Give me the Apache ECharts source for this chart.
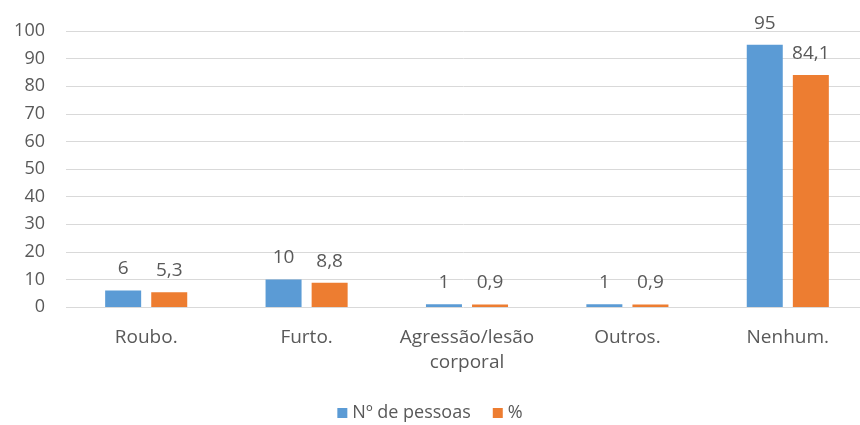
<!DOCTYPE html>
<html>
<head>
    <meta charset="utf-8" />
    <title>Ocorrências</title>
    <script src="https://cdn.jsdelivr.net/npm/echarts@6/dist/echarts.min.js"></script>
    <style>
        html, body { margin: 0; padding: 0; background: #fff; }
        #chart { width: 860px; height: 425px; }
    </style>
</head>
<body>
    <div id="chart"></div>
<script>
    // dados
    var categorias = ['Roubo.', 'Furto.', 'Agressão/lesão\ncorporal', 'Outros.', 'Nenhum.'];
    var pessoas = [6, 10, 1, 1, 95];
    var percentual = [5.3, 8.8, 0.9, 0.9, 84.1];
    var nomesSeries = ['Nº de pessoas', '%'];

    var fonte = '"Open Sans", "Noto Sans", sans-serif';
    var cinza = '#595959';

    // vírgula decimal, como no original
    function rotulo(p) {
        return String(p.value).replace('.', ',');
    }

    var myChart = echarts.init(document.getElementById('chart'));
    var option = {
        animation: false,
        textStyle: { fontFamily: fonte },
        grid: { left: 66, top: 31, width: 802, bottom: 118, outerBoundsMode: 'none', containLabel: false },
        legend: {
            bottom: -2,
            left: 'center',
            itemWidth: 10,
            itemHeight: 10,
            itemGap: 22,
            icon: 'rect',
            textStyle: { color: cinza, fontSize: 18, fontFamily: fonte },
            data: nomesSeries
        },
        xAxis: {
            type: 'category',
            data: categorias,
            axisLine: { show: false },
            axisTick: { show: false },
            axisLabel: { interval: 0, color: cinza, fontSize: 19, margin: 18, lineHeight: 25, fontFamily: fonte }
        },
        yAxis: {
            type: 'value',
            min: 0,
            max: 100,
            interval: 10,
            axisLine: { show: false },
            axisTick: { show: false },
            axisLabel: { color: cinza, fontSize: 18, margin: 21, fontFamily: fonte },
            splitLine: { lineStyle: { color: '#d9d9d9', width: 1 } }
        },
        series: [
            {
                name: nomesSeries[0],
                type: 'bar',
                data: pessoas,
                barWidth: 36,
                barGap: '28%',
                itemStyle: { color: '#5b9bd5' },
                label: { show: true, position: 'top', distance: 12, color: cinza, fontSize: 19, formatter: rotulo }
            },
            {
                name: nomesSeries[1],
                type: 'bar',
                data: percentual,
                barWidth: 36,
                barGap: '28%',
                itemStyle: { color: '#ed7d31' },
                label: { show: true, position: 'top', distance: 12, color: cinza, fontSize: 19, formatter: rotulo }
            }
        ]
    };
    myChart.setOption(option);
</script>
</body>
</html>
